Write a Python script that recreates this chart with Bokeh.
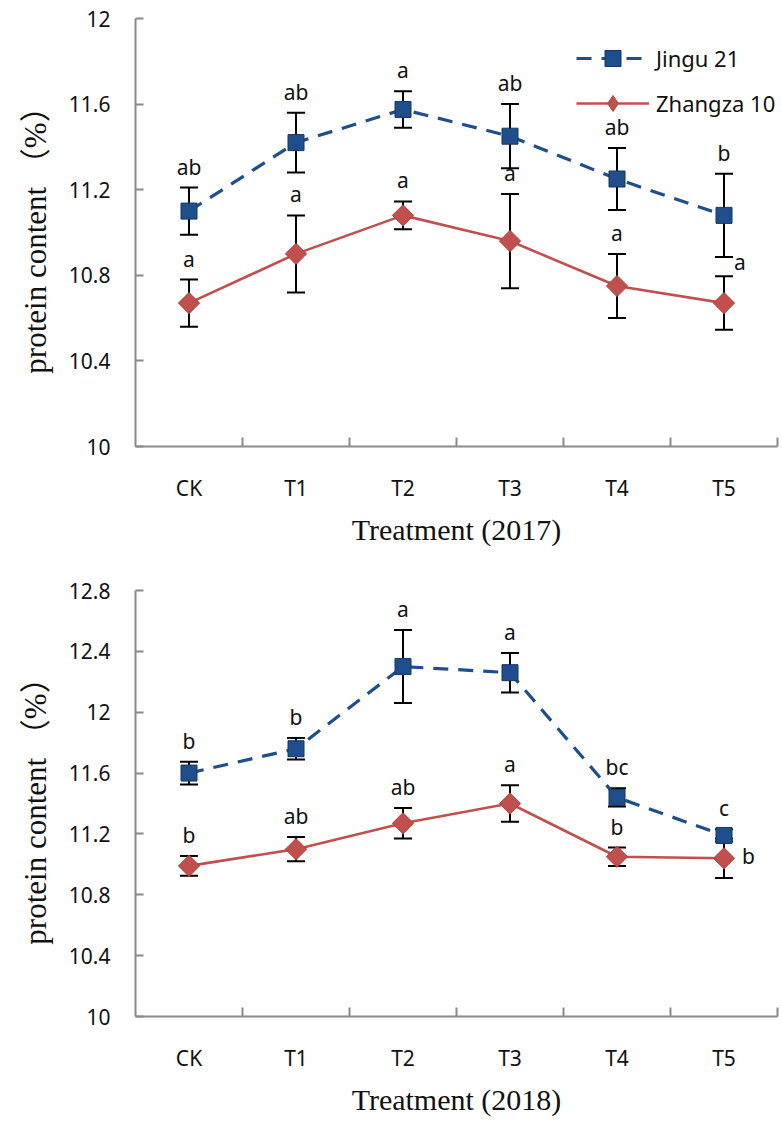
from bokeh.plotting import figure
from bokeh.models import (ColumnDataSource, Whisker, TeeHead, FixedTicker, Legend,
                          LegendItem, Range1d)
from bokeh.layouts import column
from bokeh.embed import file_html
from bokeh.resources import INLINE
from bokeh.core.properties import value

# ---------------- data ----------------
categories = ["CK", "T1", "T2", "T3", "T4", "T5"]

jingu_2017 = [11.10, 11.42, 11.575, 11.45, 11.25, 11.08]
jingu_2017_err = [0.11, 0.14, 0.085, 0.15, 0.145, 0.195]
jingu_2017_sig = ["ab", "ab", "a", "ab", "ab", "b"]
zhangza_2017 = [10.67, 10.90, 11.08, 10.96, 10.75, 10.67]
zhangza_2017_err = [0.11, 0.18, 0.065, 0.22, 0.15, 0.125]
zhangza_2017_sig = ["a", "a", "a", "a", "a", "a"]

jingu_2018 = [11.60, 11.76, 12.30, 12.26, 11.44, 11.19]
jingu_2018_err = [0.075, 0.07, 0.24, 0.13, 0.06, 0.04]
jingu_2018_sig = ["b", "b", "a", "a", "bc", "c"]
zhangza_2018 = [10.99, 11.10, 11.27, 11.40, 11.05, 11.04]
zhangza_2018_err = [0.065, 0.08, 0.10, 0.12, 0.06, 0.13]
zhangza_2018_sig = ["b", "ab", "ab", "a", "b", "b"]

yticks_2017 = [10, 10.4, 10.8, 11.2, 11.6, 12]
ytick_labels_2017 = ["10", "10.4", "10.8", "11.2", "11.6", "12"]
yticks_2018 = [10, 10.4, 10.8, 11.2, 11.6, 12, 12.4, 12.8]
ytick_labels_2018 = ["10", "10.4", "10.8", "11.2", "11.6", "12", "12.4", "12.8"]

# ---------------- style ----------------
BLUE = "#1F4E8C"
BLUE_EDGE = "#17375E"
RED = "#C0504D"
RED_EDGE = "#B03F3C"
AXIS = "#8a8a8a"
TXT = "#111111"
SANS = "Noto Sans"
SERIF = "Liberation Serif"
SERIF_CJK = "'Liberation Serif', 'Noto Sans CJK SC', serif"

xs = [i + 0.5 for i in range(len(categories))]


def make_panel(year, jingu, jingu_err, jingu_sig, zhangza, zhangza_err, zhangza_sig,
               yticks, ylabels, ymax, height, border_top, border_bottom,
               side_label, legend=False):
    p = figure(width=780, height=height, output_backend="svg", toolbar_location=None,
               x_range=Range1d(0, len(categories)), y_range=Range1d(10, ymax),
               min_border_left=135, min_border_right=3,
               min_border_top=border_top, min_border_bottom=border_bottom)
    p.outline_line_color = None
    p.xgrid.visible = False
    p.ygrid.visible = False
    p.background_fill_color = "white"
    p.border_fill_color = "white"

    # axes
    xa = p.xaxis[0]
    xa.ticker = FixedTicker(ticks=xs, minor_ticks=list(range(1, len(categories) + 1)))
    xa.major_label_overrides = {x: c for x, c in zip(xs, categories)}
    xa.major_tick_in = 0
    xa.major_tick_out = 0
    xa.minor_tick_in = 9
    xa.minor_tick_out = 0
    xa.minor_tick_line_color = AXIS
    xa.minor_tick_line_width = 2
    xa.axis_line_color = AXIS
    xa.axis_line_width = 2
    xa.major_label_standoff = 27
    xa.major_label_text_font = SANS
    xa.major_label_text_font_size = "21px"
    xa.major_label_text_color = TXT
    xa.axis_label = f"Treatment ({year})"
    xa.axis_label_text_font = SERIF
    xa.axis_label_text_font_style = "normal"
    xa.axis_label_text_font_size = "30px"
    xa.axis_label_text_color = TXT
    xa.axis_label_standoff = 8

    ya = p.yaxis[0]
    ya.ticker = FixedTicker(ticks=yticks, minor_ticks=[])
    ya.major_label_overrides = {t: l for t, l in zip(yticks, ylabels)}
    ya.major_tick_in = 8
    ya.major_tick_out = 0
    ya.major_tick_line_color = AXIS
    ya.major_tick_line_width = 2
    ya.axis_line_color = AXIS
    ya.axis_line_width = 2
    ya.major_label_standoff = 25
    ya.major_label_text_font = SANS
    ya.major_label_text_font_size = "21px"
    ya.major_label_text_color = TXT
    ya.axis_label = "protein content （%）"
    ya.axis_label_text_font = SERIF_CJK
    ya.axis_label_text_font_style = "normal"
    ya.axis_label_text_font_size = "31px"
    ya.axis_label_text_color = TXT
    ya.axis_label_standoff = 13

    # error bars
    for vals, errs in ((jingu, jingu_err), (zhangza, zhangza_err)):
        src = ColumnDataSource(dict(x=xs, upper=[v + e for v, e in zip(vals, errs)],
                                    lower=[v - e for v, e in zip(vals, errs)]))
        w = Whisker(source=src, base="x", upper="upper", lower="lower",
                    line_color="black", line_width=2,
                    upper_head=TeeHead(size=18, line_color="black", line_width=2),
                    lower_head=TeeHead(size=18, line_color="black", line_width=2))
        p.add_layout(w)

    # series
    jl = p.line(xs, jingu, line_color=BLUE, line_width=3.2, line_dash="15 10")
    js = p.scatter(xs, jingu, marker="square", size=16, fill_color=BLUE,
                   line_color=BLUE_EDGE, line_width=1)
    zl = p.line(xs, zhangza, line_color=RED, line_width=2.6)
    # diamond used as legend glyph; fully covered by the rotated squares below
    zd = p.scatter(xs, zhangza, marker="diamond", size=19, fill_color=RED,
                   line_color=RED_EDGE, line_width=1)
    zs = p.scatter(xs, zhangza, marker="square", angle=0.7853981634, size=15,
                   fill_color=RED, line_color=RED_EDGE, line_width=1)

    # significance letters
    for vals, errs, sig, is_z in ((jingu, jingu_err, jingu_sig, False),
                                  (zhangza, zhangza_err, zhangza_sig, True)):
        top_x, top_y, top_t = [], [], []
        for i, (v, e, s) in enumerate(zip(vals, errs, sig)):
            if is_z and i in side_label:
                if side_label[i] == "cap":
                    p.text([xs[i]], [v + e], text=[s], x_offset=10, y_offset=0,
                           text_align="left", text_baseline="bottom",
                           text_font=value(SANS), text_font_size="21px",
                           text_color=TXT)
                else:
                    p.text([xs[i]], [v], text=[s], x_offset=18, y_offset=-2,
                           text_align="left", text_baseline="middle",
                           text_font=value(SANS), text_font_size="21px",
                           text_color=TXT)
                continue
            top_x.append(xs[i])
            top_y.append(v + e)
            top_t.append(s)
        p.text(top_x, top_y, text=top_t, x_offset=0, y_offset=-7,
               text_align="center", text_baseline="bottom",
               text_font=value(SANS), text_font_size="21px", text_color=TXT)

    if legend:
        lg = Legend(items=[LegendItem(label="Jingu 21", renderers=[jl, js]),
                           LegendItem(label="Zhangza 10", renderers=[zl, zd])],
                    location=(441, 323))
        lg.border_line_color = None
        lg.background_fill_alpha = 0
        lg.label_text_font = SANS
        lg.label_text_font_size = "22px"
        lg.label_text_color = TXT
        lg.glyph_width = 73
        lg.glyph_height = 40
        lg.label_height = 40
        lg.spacing = 5
        lg.padding = 10
        lg.margin = 0
        lg.label_standoff = 7
        p.add_layout(lg)
    return p


p1 = make_panel(2017, jingu_2017, jingu_2017_err, jingu_2017_sig,
                zhangza_2017, zhangza_2017_err, zhangza_2017_sig,
                yticks_2017, ytick_labels_2017, 12, 550, 18, 104, {5: "cap"}, legend=True)
p2 = make_panel(2018, jingu_2018, jingu_2018_err, jingu_2018_sig,
                zhangza_2018, zhangza_2018_err, zhangza_2018_sig,
                yticks_2018, ytick_labels_2018, 12.8, 570, 40, 104, {5: "side"})

layout = column(p1, p2, spacing=0)
open("out.html", "w").write(file_html(layout, INLINE))
